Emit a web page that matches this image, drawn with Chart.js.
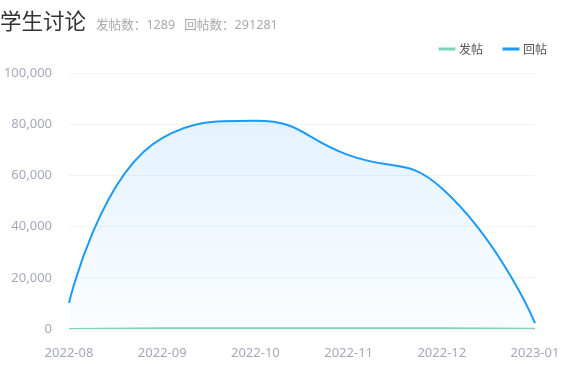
<!DOCTYPE html>
<html>
<head>
<meta charset="utf-8">
<script src="https://cdn.jsdelivr.net/npm/chart.js@4"></script>
<style>
  html, body { margin: 0; padding: 0; background: #fff; }
  #wrap { position: relative; width: 568px; height: 367px; font-family: "Noto Sans", "Noto Sans CJK SC", sans-serif; }
  #title { position: absolute; left: 0; top: 4px; white-space: nowrap; }
  #title .main { font-family: "Noto Sans CJK SC", sans-serif; font-size: 21.5px; color: #333; }
  #title .sub { font-family: "Noto Sans", "Noto Sans CJK SC", sans-serif; font-size: 12.6px; color: #aaa; margin-left: 10px; }
  #title .sub span { margin-right: 9px; }
  canvas { position: absolute; left: 0; top: 0; }
</style>
</head>
<body>
<div id="wrap">
  <canvas id="chart" width="568" height="367"></canvas>
  <div id="title"><span class="main">学生讨论</span><span class="sub"><span>发帖数：1289</span><span>回帖数：291281</span></span></div>
</div>
<script>
/* 学生讨论 — posts / replies per month */
const MONTHS = ['2022-08', '2022-09', '2022-10', '2022-11', '2022-12', '2023-01'];
const POST_VALUES = [40, 250, 280, 310, 340, 69];
const REPLY_VALUES = [10200, 74600, 81300, 67900, 55000, 2281];
const Y_MAX = 100000;
const Y_STEP = 20000;

const TICK = '#a5a8ba';
const GRID = '#f2f3f5';
const SMOOTH = 0.5;

const clamp = (v, a, b) => Math.min(Math.max(v, Math.min(a, b)), Math.max(a, b));

function replyFill(context) {
    const { chart } = context;
    const area = chart.chartArea;
    if (!area) return 'rgba(30,150,255,0.08)';
    const g = chart.ctx.createLinearGradient(0, area.top, 0, area.bottom);
    g.addColorStop(0, 'rgba(30,150,255,0.14)');
    g.addColorStop(1, 'rgba(30,150,255,0.02)');
    return g;
}

// smoothing with control points kept inside each segment's box
// (first / last segments start and end flat on their own point)
const boxedSmooth = {
    id: 'boxedSmooth',
    beforeDatasetsDraw(chart) {
        chart.getSortedVisibleDatasetMetas().forEach(meta => {
            const line = meta.dataset;
            if (!line) return;
            line.updateControlPoints(chart.chartArea, meta.indexAxis);
            const pts = line.points;
            const n = pts.length;
            if (n < 2) return;
            pts[0].cp2x = pts[0].x; pts[0].cp2y = pts[0].y;
            pts[n - 1].cp1x = pts[n - 1].x; pts[n - 1].cp1y = pts[n - 1].y;
            for (let i = 1; i < n - 1; i++) {
                const a = pts[i - 1], p = pts[i], b = pts[i + 1];
                const lenPrev = Math.hypot(p.x - a.x, p.y - a.y);
                const lenNext = Math.hypot(b.x - p.x, b.y - p.y);
                const ratio = lenNext / (lenNext + lenPrev);
                let nx = clamp(p.x + (b.x - a.x) * SMOOTH * ratio, p.x, b.x);
                let ny = clamp(p.y + (b.y - a.y) * SMOOTH * ratio, p.y, b.y);
                const cx = clamp(p.x - (nx - p.x) * lenPrev / lenNext, a.x, p.x);
                const cy = clamp(p.y - (ny - p.y) * lenPrev / lenNext, a.y, p.y);
                nx = p.x + (p.x - cx) * lenNext / lenPrev;
                ny = p.y + (p.y - cy) * lenNext / lenPrev;
                p.cp1x = cx; p.cp1y = cy;
                p.cp2x = nx; p.cp2y = ny;
            }
        });
    }
};

// legend sits further right than the plot, and leaves a gap above the plot
const legendTweak = {
    id: 'legendTweak',
    beforeInit(chart) {
        const fit = chart.legend.fit;
        chart.legend.fit = function () { fit.call(this); this.height += 8; };
    },
    afterLayout(chart) {
        chart.legend.left += 34;
        chart.legend.right += 34;
    }
};

new Chart(document.getElementById('chart').getContext('2d'), {
    type: 'line',
    data: {
        labels: MONTHS,
        datasets: [
            {
                label: '发帖',
                data: POST_VALUES,
                borderColor: '#7dd3bd',
                backgroundColor: '#7dd3bd',
                borderWidth: 2,
                pointRadius: 0,
                pointStyle: 'line',
                tension: 0.4,
                fill: false
            },
            {
                label: '回帖',
                data: REPLY_VALUES,
                borderColor: '#1a9bfc',
                backgroundColor: replyFill,
                borderWidth: 2,
                pointRadius: 0,
                pointStyle: 'line',
                tension: 0.4,
                fill: 'origin'
            }
        ]
    },
    options: {
        responsive: false,
        animation: false,
        layout: { padding: { top: 21, right: 33, left: 0, bottom: 0 } },
        plugins: {
            legend: {
                position: 'top',
                align: 'end',
                labels: {
                    usePointStyle: true,
                    boxWidth: 18,
                    boxHeight: 12,
                    padding: 22,
                    color: '#555',
                    font: { size: 12, family: '"Noto Sans CJK SC", "Noto Sans", sans-serif' },
                    generateLabels: chart => Chart.defaults.plugins.legend.labels.generateLabels(chart)
                        .map(item => Object.assign(item, { lineWidth: 3 }))
                }
            },
            tooltip: { enabled: false }
        },
        scales: {
            x: {
                offset: false,
                afterFit: scale => { scale.height = 38; },
                grid: { display: false },
                border: { display: false },
                ticks: {
                    color: TICK,
                    padding: 8,
                    maxRotation: 0,
                    autoSkip: false,
                    font: { size: 13, family: '"Noto Sans", sans-serif' }
                }
            },
            y: {
                min: 0,
                max: Y_MAX,
                afterFit: scale => { scale.width = 69; },
                grid: { color: GRID, drawTicks: false },
                border: { display: false },
                ticks: {
                    stepSize: Y_STEP,
                    color: TICK,
                    padding: 17,
                    font: { size: 13, family: '"Noto Sans", sans-serif' }
                }
            }
        }
    },
    plugins: [boxedSmooth, legendTweak]
});
</script>
</body>
</html>
